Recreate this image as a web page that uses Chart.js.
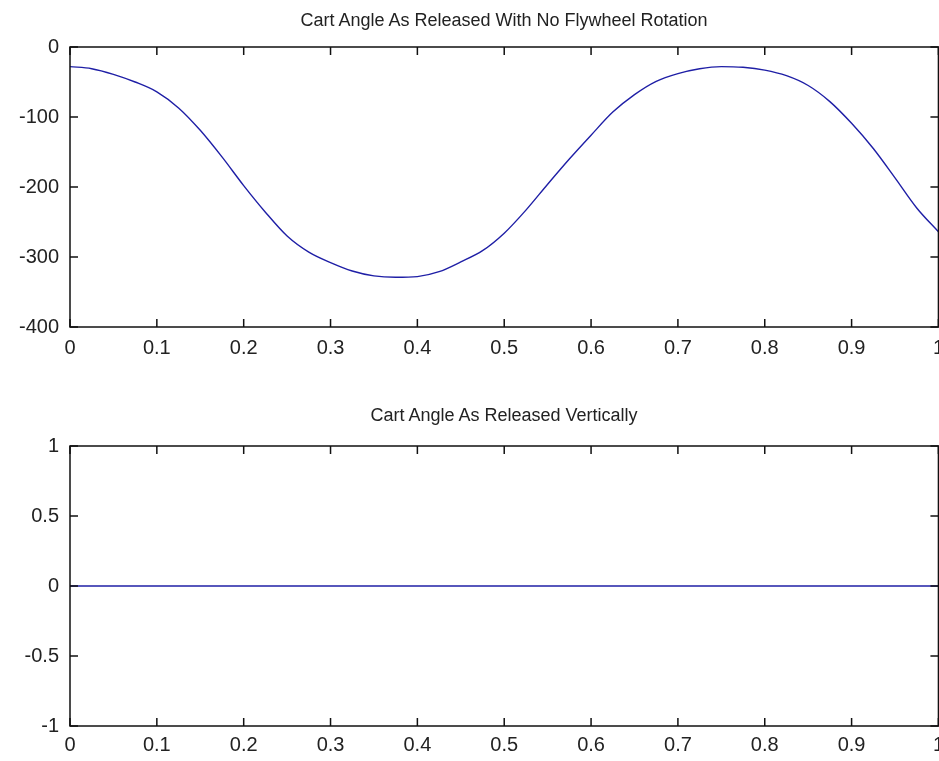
<!DOCTYPE html>
<html>
<head>
<meta charset="utf-8">
<script src="https://cdn.jsdelivr.net/npm/chart.js@4"></script>
<style>
  html, body { margin: 0; padding: 0; background: #fff; overflow: hidden; }
  #wrap { position: relative; width: 939px; height: 761px; overflow: hidden; }
  .box { position: absolute; left: 0; }
  .title {
    position: absolute; left: 70px; width: 868px; text-align: center;
    font-family: 'Liberation Sans', Arial, sans-serif; font-size: 18px;
    line-height: 22px; color: #222; white-space: nowrap;
  }
</style>
</head>
<body>
<div id="wrap">
  <div class="box" style="top:0; width:953px; height:380px;"><canvas id="topPlot"></canvas></div>
  <div class="box" style="top:380px; width:951px; height:381px;"><canvas id="bottomPlot"></canvas></div>
  <div class="title" style="top:9px;">Cart Angle As Released With No Flywheel Rotation</div>
  <div class="title" style="top:404px;">Cart Angle As Released Vertically</div>
</div>
<script>
// time samples (s)
var timeValues = [0, 0.025, 0.05, 0.075, 0.1, 0.125, 0.15, 0.175, 0.2, 0.225,
  0.25, 0.275, 0.3, 0.325, 0.35, 0.375, 0.4, 0.425, 0.45, 0.475,
  0.5, 0.525, 0.55, 0.575, 0.6, 0.625, 0.65, 0.675, 0.7, 0.725,
  0.75, 0.775, 0.8, 0.825, 0.85, 0.875, 0.9, 0.925, 0.95, 0.975, 1];
// cart angle, released with no flywheel rotation
var angleNoFlywheel = [-28, -31, -39, -50, -64, -87, -119, -157, -198, -236,
  -270, -293, -308, -320, -327, -329, -328, -321, -307, -291,
  -266, -233, -196, -160, -126, -93, -68, -49, -38, -31,
  -28, -29, -33, -41, -55, -78, -109, -145, -187, -230, -264];
// cart angle, released vertically
var angleVertical = [0, 0, 0, 0, 0, 0, 0, 0, 0, 0,
  0, 0, 0, 0, 0, 0, 0, 0, 0, 0,
  0, 0, 0, 0, 0, 0, 0, 0, 0, 0,
  0, 0, 0, 0, 0, 0, 0, 0, 0, 0, 0];
var xTicks = [0, 0.1, 0.2, 0.3, 0.4, 0.5, 0.6, 0.7, 0.8, 0.9, 1];

var fontFamily = "'Liberation Sans', Arial, sans-serif";
var textColor = '#222';

// matlab style box with inward ticks on all four sides
var boxTicks = {
  id: 'boxTicks',
  afterDraw: function(chart) {
    var ctx = chart.ctx;
    var a = chart.chartArea;
    var xs = chart.scales.x, ys = chart.scales.y;
    var len = 8;
    ctx.save();
    ctx.strokeStyle = '#111';
    ctx.lineWidth = 1.5;
    ctx.strokeRect(a.left, a.top, a.right - a.left, a.bottom - a.top);
    ctx.beginPath();
    xs.ticks.forEach(function(t) {
      var px = xs.getPixelForValue(t.value);
      ctx.moveTo(px, a.bottom); ctx.lineTo(px, a.bottom - len);
      ctx.moveTo(px, a.top); ctx.lineTo(px, a.top + len);
    });
    ys.ticks.forEach(function(t) {
      var py = ys.getPixelForValue(t.value);
      ctx.moveTo(a.left, py); ctx.lineTo(a.left + len, py);
      ctx.moveTo(a.right, py); ctx.lineTo(a.right - len, py);
    });
    ctx.stroke();
    ctx.restore();
  }
};

function fmt(v) {
  return Number.isInteger(v) ? String(v) : String(Math.round(v * 10) / 10);
}

function makePlot(canvasId, values, yMin, yMax, yStep, padTop, xAxisHeight, xPad) {
  var points = [];
  for (let i = 0; i < timeValues.length; i++) {
    points.push({x: timeValues[i], y: values[i]});
  }
  return new Chart(document.getElementById(canvasId), {
    type: 'line',
    data: {
      datasets: [{
        data: points,
        borderColor: '#1f1fa6',
        borderWidth: 1.4,
        pointRadius: 0,
        cubicInterpolationMode: 'monotone',
        fill: false
      }]
    },
    options: {
      responsive: true,
      maintainAspectRatio: false,
      animation: false,
      layout: { padding: { top: padTop, left: 0, right: 0, bottom: 0 } },
      plugins: {
        legend: { display: false },
        tooltip: { enabled: false },
        title: { display: false }
      },
      scales: {
        x: {
          type: 'linear',
          min: 0,
          max: 1,
          afterBuildTicks: function(scale) {
            scale.ticks = xTicks.map(function(v) { return {value: v}; });
          },
          afterFit: function(scale) { scale.height = xAxisHeight; },
          grid: { display: false, drawTicks: false },
          border: { display: false },
          ticks: {
            color: textColor,
            padding: xPad,
            maxRotation: 0,
            autoSkip: false,
            font: { family: fontFamily, size: 20 },
            callback: fmt
          }
        },
        y: {
          min: yMin,
          max: yMax,
          afterFit: function(scale) { scale.width = 70; },
          grid: { display: false, drawTicks: false },
          border: { display: false },
          ticks: {
            color: textColor,
            padding: 11,
            stepSize: yStep,
            font: { family: fontFamily, size: 20 },
            callback: fmt
          }
        }
      }
    },
    plugins: [boxTicks]
  });
}

makePlot('topPlot', angleNoFlywheel, -400, 0, 100, 47, 53, 9);
makePlot('bottomPlot', angleVertical, -1, 1, 0.5, 66, 35, 7);
</script>
</body>
</html>
